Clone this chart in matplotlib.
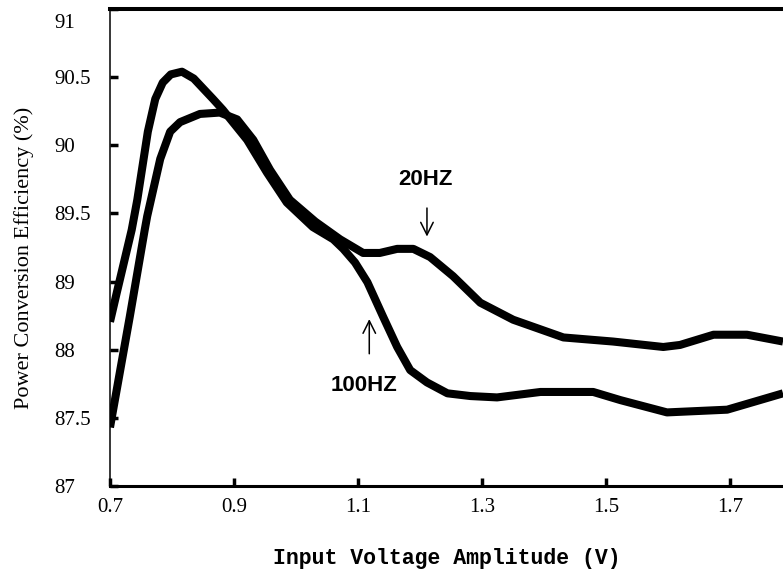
import numpy as np
import matplotlib
matplotlib.use("Agg")
import matplotlib.pyplot as plt
from matplotlib.transforms import ScaledTranslation

# tick labels on the y axis are evenly spaced but not evenly valued
y_tick_vals = [87, 87.5, 88, 89, 89.5, 90, 90.5, 91]
x_ticks = [0.7, 0.9, 1.1, 1.3, 1.5, 1.7]

# curve with the sharp peak, drops after 1.1 V
v_100 = [0.700, 0.711, 0.735, 0.744, 0.761, 0.773, 0.785, 0.798, 0.816, 0.835,
         0.866, 0.882, 0.921, 0.953, 0.985, 1.027, 1.060, 1.076, 1.095, 1.115,
         1.140, 1.163, 1.184, 1.211, 1.244, 1.281, 1.324, 1.394, 1.479, 1.523,
         1.598, 1.695, 1.785]
eff_100 = [88.41, 88.84, 89.38, 89.60, 90.10, 90.34, 90.46, 90.52, 90.54, 90.49,
           90.34, 90.26, 90.04, 89.80, 89.58, 89.40, 89.31, 89.24, 89.14, 88.99,
           88.49, 88.04, 87.85, 87.76, 87.68, 87.66, 87.65, 87.69, 87.69, 87.63,
           87.54, 87.56, 87.68]

# curve with the flat top, stays higher on the right
v_20 = [0.700, 0.732, 0.756, 0.760, 0.781, 0.797, 0.813, 0.845, 0.877, 0.905,
        0.931, 0.958, 0.990, 1.031, 1.071, 1.108, 1.135, 1.163, 1.189, 1.216,
        1.253, 1.297, 1.350, 1.431, 1.511, 1.592, 1.619, 1.673, 1.727, 1.785]
eff_20 = [87.43, 88.49, 89.38, 89.48, 89.90, 90.10, 90.17, 90.23, 90.24, 90.19,
          90.04, 89.82, 89.60, 89.44, 89.31, 89.21, 89.21, 89.24, 89.24, 89.18,
          89.04, 88.69, 88.44, 88.18, 88.12, 88.04, 88.07, 88.22, 88.22, 88.12]

idx = np.arange(len(y_tick_vals))
fwd = lambda v: np.interp(v, y_tick_vals, idx)
inv = lambda i: np.interp(i, idx, y_tick_vals)

fig = plt.figure(figsize=(7.83, 5.71), dpi=100)
ax = fig.add_axes([110/783, 1 - 486/571, 1 - 110/783, 477/571])
ax.set_yscale('function', functions=(fwd, inv))

for v, e in [(v_100, eff_100), (v_20, eff_20)]:
    ax.plot(v, e, color='black', lw=5.8, solid_joinstyle='round', solid_capstyle='butt')

ax.set_xlim(0.7, 1.785)
ax.set_ylim(87, 91)
ax.set_xticks(x_ticks)
ax.set_xticklabels([str(t) for t in x_ticks])
ax.set_yticks(y_tick_vals)
ax.set_yticklabels([str(t) for t in y_tick_vals])
ax.minorticks_off()

ax.spines['right'].set_visible(False)
ax.spines['top'].set_linewidth(2.9)
ax.spines['bottom'].set_linewidth(2.2)
ax.spines['left'].set_linewidth(1.1)

ax.tick_params(axis='both', direction='in', length=6, width=2.5,
               labelsize=15, labelfontfamily='Liberation Serif')
ax.tick_params(axis='x', pad=9)
ax.tick_params(axis='y', pad=40)
for lab in ax.get_yticklabels():
    lab.set_horizontalalignment('left')
# the "91" label sits a little below the top line
top_lab = ax.get_yticklabels()[-1]
top_lab.set_transform(top_lab.get_transform() + ScaledTranslation(0, -0.12, fig.dpi_scale_trans))

ax.set_xlabel('Input Voltage Amplitude (V)', family='Liberation Mono',
              fontweight='bold', fontsize=15.5, labelpad=22)
fig.text(24/783, 1 - 258/571, 'Power Conversion Efficiency (%)', rotation=90,
         family='Liberation Serif', fontsize=16, ha='center', va='center')

arrow = dict(arrowstyle='->,head_length=0.5,head_width=0.25', lw=1.1,
             color='black', mutation_scale=18)
ax.annotate('', xy=(1.211, 89.31), xytext=(1.211, 89.56), arrowprops=arrow)
ax.text(1.208, 89.75, '20HZ', family='Liberation Sans', fontsize=16,
        fontweight='bold', ha='center', va='center')
ax.annotate('', xy=(1.118, 88.49), xytext=(1.118, 87.95), arrowprops=arrow)
ax.text(1.110, 87.74, '100HZ', family='Liberation Sans', fontsize=16,
        fontweight='bold', ha='center', va='center')

fig.savefig('out.png', dpi=100)
